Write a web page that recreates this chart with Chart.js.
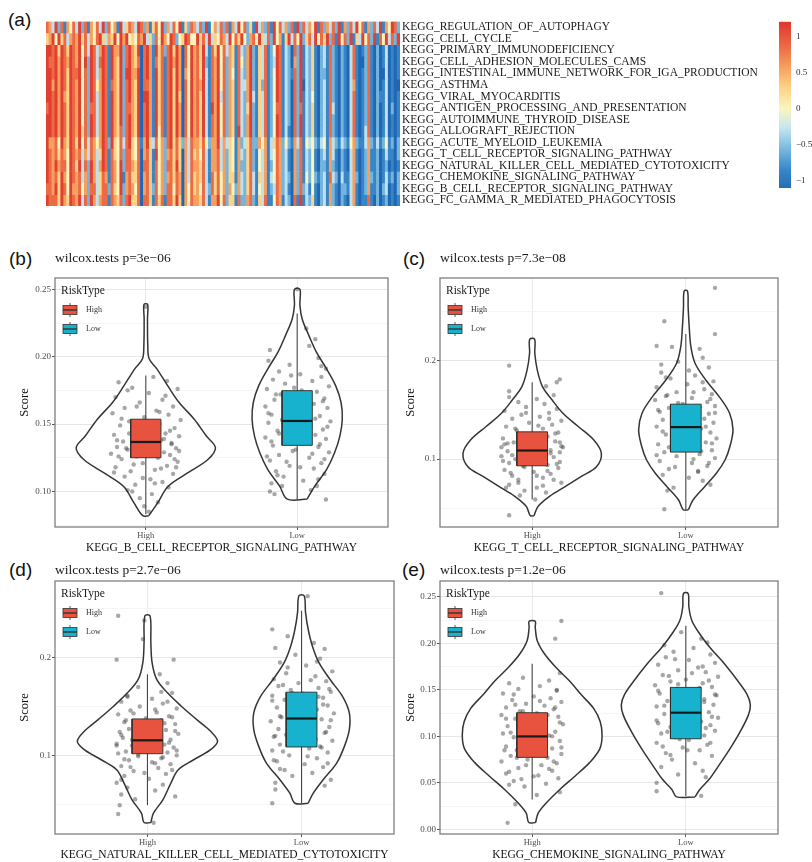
<!DOCTYPE html>
<html>
<head>
<meta charset="utf-8">
<title>KEGG pathway scores by risk group</title>
<script src="https://cdn.jsdelivr.net/npm/chart.js@4.4.0/dist/chart.umd.min.js"></script>
<style>
  html, body { margin: 0; padding: 0; background: #fff; }
  #page { position: relative; width: 812px; height: 862px; overflow: hidden; background: #fff; }
  #page canvas { position: absolute; }
  .tag { position: absolute; font-family: "Liberation Sans", Arial, sans-serif; font-size: 19px; line-height: 1; color: #111; }
</style>
</head>
<body>
<div id="page">
  <div class="tag" style="left:8px;top:10px">(a)</div>
  <div class="tag" style="left:9px;top:249px">(b)</div>
  <div class="tag" style="left:403px;top:249px">(c)</div>
  <div class="tag" style="left:9px;top:560px">(d)</div>
  <div class="tag" style="left:402px;top:560px">(e)</div>
  <canvas id="heat" width="730" height="205" style="left:40px;top:10px"></canvas>
  <canvas id="cbar" width="42" height="195" style="left:770px;top:10px"></canvas>
  <canvas id="pb" width="400" height="310" style="left:0;top:250px"></canvas>
  <canvas id="pc" width="412" height="310" style="left:400px;top:250px"></canvas>
  <canvas id="pd" width="400" height="302" style="left:0;top:560px"></canvas>
  <canvas id="pe" width="412" height="302" style="left:400px;top:560px"></canvas>
</div>
<script>
// ---------- (a) ssGSEA heatmap ----------
const pathways = [
  'KEGG_REGULATION_OF_AUTOPHAGY', 'KEGG_CELL_CYCLE', 'KEGG_PRIMARY_IMMUNODEFICIENCY',
  'KEGG_CELL_ADHESION_MOLECULES_CAMS', 'KEGG_INTESTINAL_IMMUNE_NETWORK_FOR_IGA_PRODUCTION',
  'KEGG_ASTHMA', 'KEGG_VIRAL_MYOCARDITIS', 'KEGG_ANTIGEN_PROCESSING_AND_PRESENTATION',
  'KEGG_AUTOIMMUNE_THYROID_DISEASE', 'KEGG_ALLOGRAFT_REJECTION', 'KEGG_ACUTE_MYELOID_LEUKEMIA',
  'KEGG_T_CELL_RECEPTOR_SIGNALING_PATHWAY', 'KEGG_NATURAL_KILLER_CELL_MEDIATED_CYTOTOXICITY',
  'KEGG_CHEMOKINE_SIGNALING_PATHWAY', 'KEGG_B_CELL_RECEPTOR_SIGNALING_PATHWAY',
  'KEGG_FC_GAMMA_R_MEDIATED_PHAGOCYTOSIS'
];

// One string per pathway, one digit per sample (0 = lowest score ... 8 = highest)
const scoreLevels = [
  '7638271647 3827164738 2746183576 3872615748 2637481527 6372814637 2716384725 1836271847 3627182736 4817263728 1627384716 2738164872',
  '5684857367 6857364785 3658486845 4768352748 6487245874 4857383547 6384758426 7485372846 1583748257 3847582718 4728153847 2817483728',
  '8878587587 6847387368 7186682786 5807861857 2785860748 6758317584 7365173268 2153712487 1320728132 5102317210 2103710127 1020130101',
  '8778687687 6848287378 7186582786 5707861757 1786860748 6758217684 7265174268 2153712387 1320628132 5102317210 2103710027 1020130101',
  '8878687587 7847287368 7186582886 6807861857 1785860648 6758317684 7264173268 2153712487 1321728132 5102217210 2103710127 1020030101',
  '8868687587 6847287468 7176582786 5807761857 1785860748 6768317684 7265173368 2152712487 1320728032 5102317210 2103610127 1020130100',
  '8878686587 6847287368 7186582786 5808861857 1785850748 6758317683 7265173268 3153712487 1320728132 4102317210 2103710127 1021130101',
  '7878687587 6847277368 7186582776 5807861857 1785860748 6758318684 7265173258 2153712477 1320727132 5102317310 2103710127 1020130201',
  '8878687587 6847287368 7186582786 5807861857 1785860748 6758317684 7265173268 2153712487 1320728132 5102317210 2103710127 1020130101',
  '8878687587 6857287368 7186572786 5807861847 1785860748 6758317684 7265183268 2153712487 1310728132 5102317210 2103710137 1020130101',
  '8667486587 5847376468 7285473785 4716853746 2785752637 6657426683 6354162357 2264613576 2421637143 4213416321 3214621136 2131241202',
  '8767576487 6736376358 7175472775 4706751846 2675750637 5647316673 6254163257 2143613476 2310627132 4102316310 2103610126 1120131102',
  '8768677487 5837286368 7176482776 5707751746 2775850637 6657316673 6254162257 2143612476 2310627132 4102216210 2103610126 1120120101',
  '8767586487 6736286357 6176481675 5706751746 2675760637 5657317574 6255163257 3153613476 2320627142 4212317320 3113620126 2120131202',
  '7768587486 6746277357 7275482676 4706752746 2774760647 5647327574 6264263257 3143612376 2310627231 4102316210 2213610126 1120230102',
  '8777586587 6837286367 7176572785 5707751757 1775850647 6657316684 7255172267 2153711476 1320718132 5102316210 2103610117 1020120101'
];
const levelStep = 0.29;           // z-score per level, level 4 = 0

const colorbarRange = [-1.1, 1.21];
const colorbarTicks = [-1, -0.5, 0, 0.5, 1];
const colorbarTickLabels = ['\u22121', '\u22120.5', '0', '0.5', '1'];

// ---------- (b)-(e) violin + box plots ----------
const riskGroups = ['High', 'Low'];
const riskColors = ['#E8533F', '#17B2CE'];

// violin outline: [score, half width in group units]
const bHighViolin = [[0.082,0.02],[0.0913,0.077],[0.1038,0.148],[0.1137,0.276],[0.1237,0.41],[0.1324,0.46],[0.1411,0.40],[0.1536,0.32],[0.166,0.22],[0.1785,0.144],[0.191,0.073],[0.1984,0.022],[0.2084,0.013],[0.228,0.011],[0.2388,0.012]];
const bLowViolin = [[0.0943,0.066],[0.1038,0.115],[0.1162,0.194],[0.1287,0.247],[0.1411,0.282],[0.1536,0.298],[0.166,0.29],[0.1785,0.254],[0.191,0.194],[0.2034,0.127],[0.2158,0.077],[0.228,0.033],[0.2383,0.018],[0.25,0.018]];
const cHighViolin = [[0.0425,0.012],[0.052,0.039],[0.0621,0.113],[0.0722,0.217],[0.0824,0.32],[0.0925,0.42],[0.106,0.45],[0.1196,0.40],[0.1331,0.30],[0.1466,0.20],[0.160,0.13],[0.1736,0.067],[0.1906,0.033],[0.2075,0.017],[0.2217,0.016]];
const cLowViolin = [[0.0486,0.017],[0.0587,0.048],[0.0722,0.124],[0.0858,0.20],[0.0993,0.256],[0.1128,0.287],[0.1297,0.307],[0.1466,0.285],[0.1635,0.217],[0.1804,0.13],[0.1974,0.06],[0.2142,0.033],[0.2345,0.022],[0.2548,0.015],[0.2707,0.011]];
const dHighViolin = [[0.0312,0.022],[0.0408,0.039],[0.0545,0.10],[0.0716,0.152],[0.0853,0.20],[0.0955,0.30],[0.1058,0.41],[0.1144,0.455],[0.1247,0.41],[0.1366,0.32],[0.1503,0.22],[0.164,0.13],[0.1777,0.06],[0.1949,0.03],[0.2154,0.022],[0.2428,0.017]];
const dLowViolin = [[0.051,0.043],[0.0613,0.076],[0.075,0.14],[0.0921,0.228],[0.1092,0.278],[0.1264,0.31],[0.1435,0.31],[0.1606,0.265],[0.1777,0.185],[0.1949,0.113],[0.212,0.07],[0.2291,0.043],[0.2462,0.026],[0.2634,0.017]];
const eHighViolin = [[0.0073,0.022],[0.0174,0.039],[0.0283,0.091],[0.0429,0.18],[0.0574,0.28],[0.072,0.375],[0.0865,0.44],[0.101,0.455],[0.1156,0.443],[0.130,0.40],[0.1446,0.32],[0.1592,0.245],[0.1737,0.157],[0.1882,0.082],[0.2028,0.033],[0.2173,0.02],[0.2238,0.02]];
const eLowViolin = [[0.0349,0.06],[0.0429,0.091],[0.0538,0.152],[0.0683,0.213],[0.0865,0.287],[0.1047,0.353],[0.1228,0.407],[0.1337,0.42],[0.1446,0.40],[0.1592,0.34],[0.1773,0.255],[0.1955,0.157],[0.210,0.091],[0.2246,0.039],[0.2391,0.02],[0.2536,0.015]];

// box: [lower whisker, Q1, median, Q3, upper whisker]
const bHighBox = [0.083, 0.125, 0.1367, 0.1536, 0.186];
const bLowBox  = [0.094, 0.1342, 0.1523, 0.1748, 0.232];
const cHighBox = [0.059, 0.0932, 0.1087, 0.1277, 0.178];
const cLowBox  = [0.0486, 0.1071, 0.1325, 0.1558, 0.227];
const dHighBox = [0.049, 0.1017, 0.1154, 0.1373, 0.183];
const dLowBox  = [0.051, 0.1086, 0.1377, 0.1647, 0.248];
const eHighBox = [0.032, 0.0774, 0.0999, 0.1254, 0.178];
const eLowBox  = [0.0356, 0.0974, 0.1254, 0.1526, 0.219];

// samples: [jitter offset, score]
const bHighPts = [[-0.18,0.181],[0.05,0.185],[0.14,0.182],[-0.09,0.177],[0.21,0.176],[0.02,0.173],[-0.20,0.170],[0.11,0.168],[-0.04,0.166],[0.18,0.163],[-0.14,0.162],[0.07,0.160],[-0.22,0.158],[0.15,0.157],[-0.01,0.155],[0.23,0.153],[-0.11,0.152],[0.09,0.150],[-0.17,0.149],[0.19,0.147],[0.03,0.146],[-0.07,0.145],[0.13,0.143],[-0.21,0.142],[0.22,0.141],[-0.03,0.139],[0.10,0.138],[-0.15,0.137],[0.17,0.136],[-0.09,0.135],[0.05,0.134],[-0.19,0.133],[0.20,0.132],[-0.12,0.131],[0.01,0.130],[0.12,0.129],[-0.23,0.128],[0.16,0.127],[-0.06,0.126],[0.08,0.125],[-0.16,0.124],[0.21,0.122],[-0.02,0.121],[0.14,0.119],[-0.20,0.118],[0.06,0.116],[-0.10,0.115],[0.18,0.113],[-0.14,0.111],[0.03,0.109],[0.11,0.107],[-0.07,0.105],[0.15,0.103],[-0.12,0.101],[0.04,0.098],[-0.04,0.095],[0.08,0.092],[-0.01,0.089],[0.02,0.085],[0.00,0.237],
  [-0.05,0.147],[0.12,0.139],[-0.13,0.132],[0.07,0.128],[-0.18,0.126],[0.19,0.124],[-0.08,0.120],[0.10,0.117],[-0.21,0.114],[0.01,0.133],[0.16,0.145],[-0.11,0.143],[0.04,0.151],[-0.16,0.154],[0.09,0.159],[-0.06,0.163],[0.13,0.171],[-0.12,0.175],[0.20,0.118],[-0.02,0.110],[0.06,0.106],[-0.09,0.100],[0.17,0.135],[-0.19,0.138],[0.22,0.130]];
const bLowPts = [[0.00,0.250],[0.06,0.221],[0.12,0.213],[-0.18,0.205],[0.08,0.208],[-0.19,0.197],[0.14,0.199],[-0.05,0.194],[0.19,0.191],[-0.12,0.189],[0.02,0.187],[0.16,0.185],[-0.16,0.183],[0.10,0.182],[-0.08,0.180],[0.21,0.178],[-0.02,0.177],[-0.20,0.176],[0.13,0.174],[-0.11,0.172],[0.05,0.171],[0.18,0.169],[-0.15,0.168],[-0.03,0.166],[0.11,0.165],[-0.21,0.163],[0.20,0.162],[-0.07,0.160],[0.07,0.159],[-0.17,0.157],[0.15,0.156],[0.01,0.155],[-0.10,0.153],[0.22,0.152],[-0.19,0.151],[0.09,0.149],[-0.04,0.148],[0.17,0.146],[-0.13,0.145],[0.03,0.143],[0.12,0.142],[-0.21,0.140],[0.19,0.139],[-0.08,0.137],[0.06,0.136],[-0.16,0.134],[0.14,0.133],[-0.01,0.131],[0.21,0.129],[-0.12,0.127],[0.08,0.125],[-0.18,0.123],[0.16,0.121],[-0.05,0.119],[0.11,0.117],[-0.14,0.115],[0.18,0.113],[-0.09,0.111],[0.04,0.108],[-0.17,0.106],[0.13,0.104],[-0.18,0.100],[-0.15,0.098],[0.19,0.094],
  [0.03,0.175],[-0.14,0.172],[0.17,0.167],[-0.09,0.163],[0.08,0.161],[-0.19,0.158],[0.12,0.154],[-0.06,0.150],[0.20,0.148],[-0.12,0.143],[0.05,0.140],[-0.17,0.137],[0.15,0.135],[-0.03,0.130],[0.10,0.128],[-0.20,0.126],[0.18,0.124],[-0.07,0.122],[0.02,0.118],[-0.13,0.112],[0.14,0.109],[-0.10,0.104],[0.09,0.101],[-0.04,0.186],[0.16,0.193]];
const cHighPts = [[-0.15,0.195],[0.18,0.181],[0.16,0.178],[0.09,0.174],[-0.15,0.169],[0.14,0.165],[-0.15,0.163],[0.03,0.161],[-0.09,0.158],[0.08,0.156],[-0.04,0.153],[0.16,0.151],[-0.18,0.149],[0.11,0.147],[-0.07,0.145],[0.05,0.143],[-0.13,0.141],[0.19,0.139],[-0.02,0.137],[0.13,0.135],[-0.17,0.133],[0.07,0.131],[-0.10,0.129],[0.17,0.127],[-0.05,0.125],[0.10,0.123],[-0.19,0.121],[0.02,0.120],[0.15,0.118],[-0.12,0.117],[-0.18,0.115],[0.06,0.114],[0.20,0.112],[-0.08,0.111],[0.12,0.109],[-0.16,0.108],[0.18,0.107],[-0.03,0.106],[0.09,0.104],[-0.20,0.103],[0.14,0.102],[-0.11,0.100],[0.04,0.099],[0.18,0.097],[-0.15,0.096],[0.10,0.094],[-0.06,0.093],[0.17,0.091],[-0.18,0.089],[0.01,0.087],[0.12,0.085],[-0.13,0.083],[0.07,0.081],[-0.09,0.079],[0.19,0.076],[-0.15,0.074],[0.03,0.071],[-0.05,0.068],[0.09,0.066],[-0.08,0.063],[0.02,0.059],[-0.15,0.043],
  [0.04,0.134],[-0.11,0.131],[0.15,0.126],[-0.07,0.122],[0.09,0.119],[-0.16,0.116],[0.19,0.113],[-0.02,0.110],[0.12,0.106],[-0.13,0.104],[0.06,0.101],[-0.19,0.098],[0.16,0.095],[-0.05,0.092],[0.10,0.088],[-0.14,0.086],[0.03,0.083],[0.14,0.079],[-0.09,0.076],[0.07,0.073],[-0.17,0.071],[0.18,0.117],[-0.20,0.112],[0.11,0.141],[-0.04,0.147]];
const cLowPts = [[0.19,0.274],[-0.14,0.240],[0.19,0.227],[-0.19,0.215],[-0.09,0.214],[0.09,0.212],[0.11,0.203],[-0.05,0.199],[0.15,0.193],[-0.16,0.188],[0.06,0.185],[-0.10,0.182],[0.18,0.179],[0.01,0.176],[-0.19,0.173],[0.12,0.171],[-0.06,0.168],[0.17,0.166],[-0.13,0.164],[0.04,0.162],[-0.20,0.160],[0.14,0.158],[-0.02,0.156],[0.19,0.154],[-0.11,0.152],[0.08,0.150],[-0.17,0.148],[0.15,0.146],[0.00,0.144],[-0.15,0.140],[0.12,0.141],[-0.08,0.139],[0.18,0.137],[0.05,0.135],[-0.19,0.133],[0.10,0.131],[-0.04,0.129],[0.16,0.127],[-0.13,0.125],[0.02,0.123],[0.20,0.121],[-0.09,0.119],[0.13,0.117],[-0.18,0.115],[0.07,0.113],[-0.01,0.111],[0.17,0.109],[-0.14,0.107],[0.09,0.105],[-0.06,0.103],[0.19,0.101],[-0.17,0.098],[0.04,0.096],[0.14,0.093],[-0.11,0.090],[0.08,0.087],[-0.15,0.084],[0.02,0.081],[0.11,0.078],[0.16,0.074],[-0.08,0.071],[-0.12,0.068],[-0.14,0.049],
  [0.05,0.168],[-0.12,0.165],[0.16,0.161],[-0.05,0.157],[0.09,0.153],[-0.18,0.150],[0.19,0.147],[0.03,0.142],[-0.09,0.137],[0.13,0.133],[-0.15,0.128],[0.07,0.124],[-0.02,0.120],[0.17,0.116],[-0.11,0.112],[0.10,0.108],[-0.19,0.104],[0.05,0.100],[0.15,0.096],[-0.07,0.092],[0.11,0.178],[-0.13,0.183],[0.02,0.190],[-0.16,0.196],[0.08,0.088]];
const dHighPts = [[-0.19,0.243],[-0.02,0.238],[-0.03,0.219],[-0.20,0.198],[0.17,0.198],[0.08,0.183],[0.13,0.174],[-0.06,0.170],[0.16,0.164],[-0.13,0.161],[0.03,0.158],[-0.17,0.155],[0.10,0.153],[-0.05,0.150],[0.19,0.148],[-0.11,0.146],[0.06,0.144],[-0.19,0.142],[0.14,0.140],[-0.01,0.138],[0.09,0.136],[-0.15,0.134],[0.18,0.132],[-0.08,0.131],[0.04,0.129],[-0.12,0.127],[0.12,0.126],[-0.18,0.124],[0.20,0.122],[-0.03,0.121],[0.08,0.119],[-0.16,0.118],[0.15,0.116],[-0.07,0.115],[0.02,0.114],[-0.20,0.112],[0.11,0.111],[-0.10,0.110],[0.17,0.108],[-0.04,0.107],[0.06,0.106],[-0.14,0.104],[0.13,0.103],[-0.19,0.102],[0.19,0.100],[-0.06,0.099],[0.09,0.097],[-0.12,0.095],[0.03,0.093],[0.15,0.091],[-0.17,0.089],[0.07,0.087],[-0.09,0.084],[0.12,0.081],[-0.15,0.079],[0.01,0.076],[-0.20,0.072],[0.10,0.070],[-0.13,0.067],[0.05,0.064],[-0.17,0.060],[0.18,0.058],[-0.08,0.055],[-0.18,0.049],[-0.19,0.040],[0.04,0.031],
  [0.05,0.147],[-0.09,0.143],[0.16,0.139],[-0.14,0.136],[0.11,0.133],[-0.04,0.129],[0.18,0.125],[-0.17,0.121],[0.07,0.118],[-0.10,0.116],[0.14,0.113],[-0.20,0.110],[0.03,0.108],[0.19,0.105],[-0.06,0.101],[0.10,0.098],[-0.15,0.096],[0.05,0.092],[-0.11,0.088],[0.16,0.085],[-0.02,0.082],[0.13,0.155],[-0.13,0.160],[0.09,0.165],[-0.17,0.075]];
const dLowPts = [[0.04,0.263],[-0.19,0.229],[-0.09,0.222],[0.08,0.215],[-0.17,0.210],[0.15,0.209],[-0.04,0.203],[0.12,0.199],[-0.14,0.195],[0.03,0.192],[0.20,0.186],[-0.10,0.184],[0.09,0.181],[-0.18,0.178],[0.16,0.176],[-0.02,0.174],[-0.15,0.171],[0.11,0.169],[-0.07,0.167],[0.19,0.165],[0.01,0.163],[-0.19,0.161],[0.14,0.159],[-0.11,0.157],[0.06,0.155],[-0.04,0.153],[0.17,0.151],[-0.16,0.149],[0.10,0.147],[-0.08,0.145],[0.21,0.143],[0.02,0.141],[-0.13,0.139],[0.13,0.137],[-0.20,0.135],[0.07,0.133],[-0.05,0.131],[0.18,0.129],[-0.15,0.127],[0.04,0.125],[0.15,0.123],[-0.10,0.121],[-0.18,0.119],[0.09,0.117],[0.20,0.115],[-0.03,0.113],[-0.14,0.111],[0.12,0.109],[0.05,0.107],[-0.19,0.105],[0.17,0.103],[-0.08,0.100],[0.10,0.097],[-0.16,0.094],[0.02,0.091],[0.14,0.088],[-0.11,0.085],[0.07,0.082],[-0.06,0.079],[0.19,0.075],[-0.17,0.072],[0.15,0.069],[-0.17,0.065],[-0.19,0.051],
  [0.06,0.177],[-0.12,0.172],[0.18,0.168],[-0.06,0.164],[0.11,0.160],[-0.19,0.156],[0.14,0.152],[-0.02,0.148],[0.08,0.144],[-0.14,0.140],[0.19,0.136],[-0.08,0.132],[0.03,0.128],[0.16,0.124],[-0.17,0.120],[0.09,0.116],[-0.05,0.112],[0.13,0.108],[-0.12,0.104],[0.04,0.099],[-0.18,0.095],[0.17,0.092],[-0.09,0.190],[0.10,0.196],[-0.14,0.086]];
const eHighPts = [[0.19,0.224],[0.15,0.205],[0.18,0.168],[-0.06,0.163],[0.11,0.160],[-0.15,0.157],[0.05,0.154],[-0.09,0.151],[0.16,0.149],[-0.19,0.146],[0.01,0.143],[0.12,0.141],[-0.13,0.139],[0.19,0.137],[-0.04,0.135],[0.08,0.133],[-0.17,0.131],[0.14,0.129],[-0.08,0.127],[0.03,0.125],[-0.20,0.123],[0.17,0.121],[-0.11,0.119],[0.09,0.117],[-0.02,0.115],[0.20,0.113],[-0.16,0.111],[0.06,0.109],[-0.07,0.107],[0.15,0.105],[-0.19,0.103],[0.11,0.101],[-0.12,0.099],[0.02,0.097],[0.18,0.095],[-0.05,0.093],[0.08,0.091],[-0.17,0.089],[0.13,0.087],[-0.10,0.085],[0.04,0.083],[0.19,0.081],[-0.14,0.079],[0.10,0.077],[-0.03,0.075],[-0.20,0.073],[0.16,0.071],[0.06,0.069],[-0.09,0.066],[0.13,0.063],[-0.17,0.060],[0.01,0.057],[0.17,0.055],[-0.12,0.052],[0.09,0.049],[-0.05,0.046],[0.18,0.040],[-0.15,0.048],[0.03,0.037],[-0.11,0.027],[-0.16,0.007],
  [0.05,0.138],[-0.11,0.134],[0.15,0.131],[-0.06,0.127],[0.10,0.123],[-0.17,0.119],[0.18,0.115],[-0.03,0.111],[0.08,0.107],[-0.14,0.104],[0.13,0.100],[-0.08,0.096],[0.02,0.092],[0.19,0.088],[-0.18,0.085],[0.07,0.081],[-0.10,0.077],[0.14,0.073],[-0.04,0.069],[0.11,0.065],[-0.15,0.062],[0.04,0.058],[-0.12,0.145],[0.16,0.150],[-0.07,0.054]];
const eLowPts = [[-0.16,0.254],[-0.03,0.212],[0.10,0.205],[0.14,0.201],[-0.14,0.198],[0.05,0.195],[-0.08,0.191],[0.16,0.188],[-0.13,0.185],[0.02,0.182],[0.19,0.179],[-0.18,0.177],[0.08,0.174],[-0.05,0.171],[0.13,0.169],[-0.15,0.166],[0.21,0.164],[0.00,0.161],[-0.10,0.159],[0.11,0.157],[-0.20,0.155],[0.17,0.153],[-0.06,0.151],[0.06,0.148],[-0.17,0.146],[0.20,0.144],[-0.02,0.142],[0.12,0.140],[-0.12,0.138],[0.03,0.136],[0.18,0.134],[-0.19,0.132],[0.08,0.130],[-0.08,0.128],[0.15,0.126],[-0.14,0.124],[0.01,0.122],[0.21,0.120],[-0.04,0.118],[0.10,0.116],[-0.18,0.114],[0.16,0.112],[-0.10,0.110],[0.05,0.108],[0.19,0.106],[-0.16,0.103],[0.12,0.101],[-0.07,0.099],[0.02,0.096],[-0.19,0.093],[0.14,0.091],[-0.02,0.088],[0.09,0.085],[-0.13,0.082],[0.17,0.079],[-0.09,0.075],[0.06,0.071],[-0.16,0.067],[0.11,0.063],[-0.05,0.059],[0.13,0.056],[-0.19,0.050],[-0.19,0.041],[0.10,0.036],
  [0.04,0.168],[-0.11,0.165],[0.15,0.160],[-0.05,0.156],[0.09,0.152],[-0.18,0.149],[0.19,0.145],[-0.01,0.141],[0.12,0.137],[-0.14,0.133],[0.06,0.129],[-0.08,0.125],[0.17,0.121],[-0.19,0.117],[0.03,0.113],[0.13,0.109],[-0.12,0.105],[0.08,0.101],[-0.04,0.097],[0.16,0.093],[-0.15,0.089],[0.01,0.085],[-0.10,0.080],[0.11,0.175],[-0.07,0.183]];

// axis limits and tick labels
const bLimits = [0.0736, 0.2584], bTicks = [0.10, 0.15, 0.20, 0.25], bTickLabels = ['0.10', '0.15', '0.20', '0.25'];
const cLimits = [0.031, 0.284],   cTicks = [0.1, 0.2], cTickLabels = ['0.1', '0.2'];
const dLimits = [0.0195, 0.2785], dTicks = [0.1, 0.2], dTickLabels = ['0.1', '0.2'];
const eLimits = [-0.005, 0.267],  eTicks = [0, 0.05, 0.10, 0.15, 0.20, 0.25], eTickLabels = ['0.00', '0.05', '0.10', '0.15', '0.20', '0.25'];

const bTitle = 'wilcox.tests p=3e\u221206', cTitle = 'wilcox.tests p=7.3e\u221208';
const dTitle = 'wilcox.tests p=2.7e\u221206', eTitle = 'wilcox.tests p=1.2e\u221206';
const bPathway = 'KEGG_B_CELL_RECEPTOR_SIGNALING_PATHWAY';
const cPathway = 'KEGG_T_CELL_RECEPTOR_SIGNALING_PATHWAY';
const dPathway = 'KEGG_NATURAL_KILLER_CELL_MEDIATED_CYTOTOXICITY';
const ePathway = 'KEGG_CHEMOKINE_SIGNALING_PATHWAY';

// ---------- drawing ----------
const SERIF = "'Liberation Serif', 'Times New Roman', serif";
Chart.defaults.font.family = SERIF;

// blue - yellow - red ramp
const ramp = [
  [-1.16, 33, 102, 178], [-0.85, 55, 135, 200], [-0.55, 122, 186, 225], [-0.25, 202, 231, 240],
  [0.0, 250, 245, 190], [0.3, 252, 210, 135], [0.6, 247, 155, 92], [0.9, 236, 100, 66], [1.21, 222, 56, 46]
];
function rampColor(v) {
  if (v <= ramp[0][0]) return `rgb(${ramp[0][1]},${ramp[0][2]},${ramp[0][3]})`;
  for (let i = 1; i < ramp.length; i++) {
    if (v <= ramp[i][0]) {
      const a = ramp[i - 1], b = ramp[i], t = (v - a[0]) / (b[0] - a[0]);
      const c = [1, 2, 3].map(k => Math.round(a[k] + (b[k] - a[k]) * t));
      return `rgb(${c[0]},${c[1]},${c[2]})`;
    }
  }
  const l = ramp[ramp.length - 1];
  return `rgb(${l[1]},${l[2]},${l[3]})`;
}

const heatScores = scoreLevels.map(s => s.replace(/\s+/g, '').split('').map(ch => (Number(ch) - 4) * levelStep));
const sampleIds = heatScores[0].map((_, i) => 'S' + (i + 1));

new Chart(document.getElementById('heat'), {
  type: 'bar',
  data: {
    labels: sampleIds,
    datasets: pathways.map((name, r) => ({
      label: name,
      data: heatScores[r].map(() => [r, r + 1]),
      backgroundColor: heatScores[r].map(rampColor),
      borderWidth: 0,
      barPercentage: 1,
      categoryPercentage: 1,
      grouped: false
    }))
  },
  options: {
    responsive: false, animation: false, devicePixelRatio: 1, events: [],
    layout: { padding: { left: 6, top: 11.5, bottom: 8.5, right: 0 } },
    plugins: { legend: { display: false }, tooltip: { enabled: false } },
    scales: {
      x: { display: false },
      y: {
        position: 'right', reverse: true, min: 0, max: pathways.length,
        grid: { display: false, drawTicks: false }, border: { display: false },
        afterBuildTicks: s => { s.ticks = pathways.map((_, r) => ({ value: r + 0.5 })); },
        afterFit: s => { s.width = 370; },
        ticks: {
          autoSkip: false, padding: 2, color: '#1a1a1a',
          font: { family: SERIF, size: 11.5 },
          callback: (v, i) => pathways[i]
        }
      }
    }
  }
});

// colour key
new Chart(document.getElementById('cbar'), {
  type: 'bar',
  data: {
    labels: [''],
    datasets: [{
      data: [colorbarRange],
      borderWidth: 0, barPercentage: 1, categoryPercentage: 1,
      backgroundColor: (c) => {
        const chart = c.chart;
        if (!chart.chartArea) return '#ccc';
        const y = chart.scales.y, [lo, hi] = colorbarRange;
        const g = chart.ctx.createLinearGradient(0, y.getPixelForValue(lo), 0, y.getPixelForValue(hi));
        g.addColorStop(0, rampColor(lo));
        ramp.forEach(st => {
          const f = (st[0] - lo) / (hi - lo);
          if (f > 0 && f < 1) g.addColorStop(f, rampColor(st[0]));
        });
        g.addColorStop(1, rampColor(hi));
        return g;
      }
    }]
  },
  options: {
    responsive: false, animation: false, devicePixelRatio: 1, events: [],
    layout: { padding: { left: 9, top: 11.7, bottom: 17, right: 0 } },
    plugins: { legend: { display: false }, tooltip: { enabled: false } },
    scales: {
      x: { display: false },
      y: {
        position: 'right', min: colorbarRange[0], max: colorbarRange[1],
        grid: { display: false, drawTicks: false }, border: { display: false },
        afterBuildTicks: s => { s.ticks = colorbarTicks.map(v => ({ value: v })); },
        afterFit: s => { s.width = 21; },
        ticks: { padding: 5, color: '#333', font: { family: SERIF, size: 9 }, callback: (v, i) => colorbarTickLabels[i] }
      }
    }
  }
});

// panel frame (theme_bw border)
const framePlugin = {
  id: 'frame',
  afterDatasetsDraw(chart) {
    const { ctx, chartArea: a } = chart;
    ctx.save();
    ctx.strokeStyle = '#7f7f7f';
    ctx.lineWidth = 1.3;
    ctx.strokeRect(a.left, a.top, a.right - a.left, a.bottom - a.top);
    ctx.restore();
  }
};

// in-panel RiskType key with small boxplot glyphs
const riskKeyPlugin = {
  id: 'riskKey',
  afterDraw(chart) {
    const { ctx, chartArea: a } = chart;
    ctx.save();
    ctx.textBaseline = 'middle';
    ctx.fillStyle = '#1a1a1a';
    ctx.font = `11.5px ${SERIF}`;
    ctx.fillText('RiskType', a.left + 6, a.top + 13);
    riskGroups.forEach((name, i) => {
      const x = a.left + 8, y = a.top + 32 + i * 19;
      ctx.strokeStyle = '#333';
      ctx.lineWidth = 0.8;
      ctx.beginPath(); ctx.moveTo(x + 7, y - 7); ctx.lineTo(x + 7, y + 7); ctx.stroke();
      ctx.fillStyle = riskColors[i];
      ctx.fillRect(x, y - 4.5, 14, 9);
      ctx.strokeRect(x, y - 4.5, 14, 9);
      ctx.lineWidth = 1.4;
      ctx.beginPath(); ctx.moveTo(x, y); ctx.lineTo(x + 14, y); ctx.stroke();
      ctx.fillStyle = '#333';
      ctx.font = `8px ${SERIF}`;
      ctx.fillText(name, x + 23, y);
    });
    ctx.restore();
  }
};

const BOX_HALF = 0.1;

function violinPanel(id, spec, look) {
  const datasets = [];
  spec.groups.forEach((g, gi) => {
    const cx = gi + 1;
    const rightSide = g.violin.map(([y, w]) => ({ x: cx + w, y }));
    const leftSide = g.violin.slice().reverse().map(([y, w]) => ({ x: cx - w, y }));
    datasets.push({
      label: riskGroups[gi] + ' violin', data: rightSide.concat(leftSide, [rightSide[0]]),
      showLine: true, fill: 'shape', backgroundColor: '#ffffff', borderColor: '#353535',
      borderWidth: 1.5, tension: 0.35, pointRadius: 0, order: 10
    });
    datasets.push({
      label: riskGroups[gi] + ' samples', data: g.points.map(([dx, y]) => ({ x: cx + dx, y })),
      showLine: false, pointRadius: 2.2, pointBackgroundColor: 'rgba(45,45,45,0.42)',
      pointBorderWidth: 0, pointBorderColor: 'rgba(0,0,0,0)', order: 8
    });
    const [lo, q1, med, q3, hi] = g.box;
    datasets.push({
      label: riskGroups[gi] + ' whisker', data: [{ x: cx, y: lo }, { x: cx, y: hi }],
      showLine: true, borderColor: '#444', borderWidth: 1.1, pointRadius: 0, order: 6
    });
    datasets.push({
      label: riskGroups[gi] + ' box',
      data: [{ x: cx - BOX_HALF, y: q1 }, { x: cx + BOX_HALF, y: q1 }, { x: cx + BOX_HALF, y: q3 },
             { x: cx - BOX_HALF, y: q3 }, { x: cx - BOX_HALF, y: q1 }],
      showLine: true, fill: 'shape', backgroundColor: riskColors[gi], borderColor: '#2a2a2a',
      borderWidth: 0.9, pointRadius: 0, order: 4
    });
    datasets.push({
      label: riskGroups[gi] + ' median', data: [{ x: cx - BOX_HALF, y: med }, { x: cx + BOX_HALF, y: med }],
      showLine: true, borderColor: '#1a1a1a', borderWidth: 2.2, pointRadius: 0, order: 2
    });
  });

  const step = spec.ticks[1] - spec.ticks[0];
  const allTicks = [];
  for (let v = spec.ticks[0] - step; v <= spec.limits[1] + 1e-9; v += step / 2) {
    if (v >= spec.limits[0] - 1e-9) allTicks.push(Math.round(v * 10000) / 10000);
  }
  const majorIndex = v => spec.ticks.findIndex(t => Math.abs(t - v) < 1e-6);

  new Chart(document.getElementById(id), {
    type: 'scatter',
    data: { datasets },
    options: {
      responsive: false, animation: false, devicePixelRatio: 1, events: [],
      layout: { padding: { left: 0, right: look.padRight, top: 0, bottom: look.padBottom } },
      plugins: {
        legend: { display: false }, tooltip: { enabled: false },
        title: {
          display: true, text: spec.title, align: 'start', fullSize: false, color: '#1a1a1a',
          font: { family: SERIF, size: 13.5, weight: 'normal' },
          padding: { top: look.titleTop, bottom: look.titleBottom }
        }
      },
      scales: {
        x: {
          type: 'linear', min: 0.4, max: 2.6,
          afterBuildTicks: s => { s.ticks = riskGroups.map((_, i) => ({ value: i + 1 })); },
          afterFit: s => { s.height = look.xAxisH; },
          grid: { color: '#e9e9e9', lineWidth: 1, tickLength: 3, tickColor: '#555' },
          border: { display: false },
          ticks: { autoSkip: false, maxRotation: 0, padding: 1, color: '#4d4d4d',
                   font: { family: SERIF, size: 8.5 }, callback: (v, i) => riskGroups[i] },
          title: { display: true, text: spec.xTitle, color: '#111',
                   font: { family: SERIF, size: 11.5 }, padding: { top: 0, bottom: look.xTitlePad } }
        },
        y: {
          min: spec.limits[0], max: spec.limits[1],
          afterBuildTicks: s => { s.ticks = allTicks.map(v => ({ value: v })); },
          afterFit: s => { s.width = look.yAxisW; },
          grid: {
            color: c => (c.tick && majorIndex(c.tick.value) >= 0) ? '#e6e6e6' : '#f2f2f2',
            lineWidth: c => (c.tick && majorIndex(c.tick.value) >= 0) ? 1 : 0.8,
            tickLength: 3,
            tickColor: c => (c.tick && majorIndex(c.tick.value) >= 0) ? '#555' : 'rgba(0,0,0,0)'
          },
          border: { display: false },
          ticks: { autoSkip: false, padding: 1, color: '#4d4d4d', font: { family: SERIF, size: 9 },
                   callback: v => { const k = majorIndex(v); return k >= 0 ? spec.tickLabels[k] : ''; } },
          title: { display: true, text: 'Score', color: '#111', font: { family: SERIF, size: 12.5 },
                   padding: { top: look.yTitlePad, bottom: 0 } }
        }
      }
    },
    plugins: [framePlugin, riskKeyPlugin]
  });
}

const upperLeft  = { yAxisW: 55, padRight: 12, padBottom: 3, xAxisH: 30, titleTop: 0, titleBottom: 11.8, xTitlePad: 2.1, yTitlePad: 17.5 };
const upperRight = { yAxisW: 40, padRight: 34, padBottom: 3, xAxisH: 30, titleTop: 0, titleBottom: 11.8, xTitlePad: 2.1, yTitlePad: 3.5 };
const lowerLeft  = { yAxisW: 55, padRight: 6, padBottom: 0, xAxisH: 28, titleTop: 2, titleBottom: 2.8, xTitlePad: 0.1, yTitlePad: 17.5 };
const lowerRight = { yAxisW: 40, padRight: 34, padBottom: 0, xAxisH: 28, titleTop: 2, titleBottom: 2.8, xTitlePad: 0.1, yTitlePad: 3.5 };

violinPanel('pb', { title: bTitle, xTitle: bPathway, limits: bLimits, ticks: bTicks, tickLabels: bTickLabels,
  groups: [{ violin: bHighViolin, box: bHighBox, points: bHighPts }, { violin: bLowViolin, box: bLowBox, points: bLowPts }] }, upperLeft);
violinPanel('pc', { title: cTitle, xTitle: cPathway, limits: cLimits, ticks: cTicks, tickLabels: cTickLabels,
  groups: [{ violin: cHighViolin, box: cHighBox, points: cHighPts }, { violin: cLowViolin, box: cLowBox, points: cLowPts }] }, upperRight);
violinPanel('pd', { title: dTitle, xTitle: dPathway, limits: dLimits, ticks: dTicks, tickLabels: dTickLabels,
  groups: [{ violin: dHighViolin, box: dHighBox, points: dHighPts }, { violin: dLowViolin, box: dLowBox, points: dLowPts }] }, lowerLeft);
violinPanel('pe', { title: eTitle, xTitle: ePathway, limits: eLimits, ticks: eTicks, tickLabels: eTickLabels,
  groups: [{ violin: eHighViolin, box: eHighBox, points: eHighPts }, { violin: eLowViolin, box: eLowBox, points: eLowPts }] }, lowerRight);
</script>
</body>
</html>
